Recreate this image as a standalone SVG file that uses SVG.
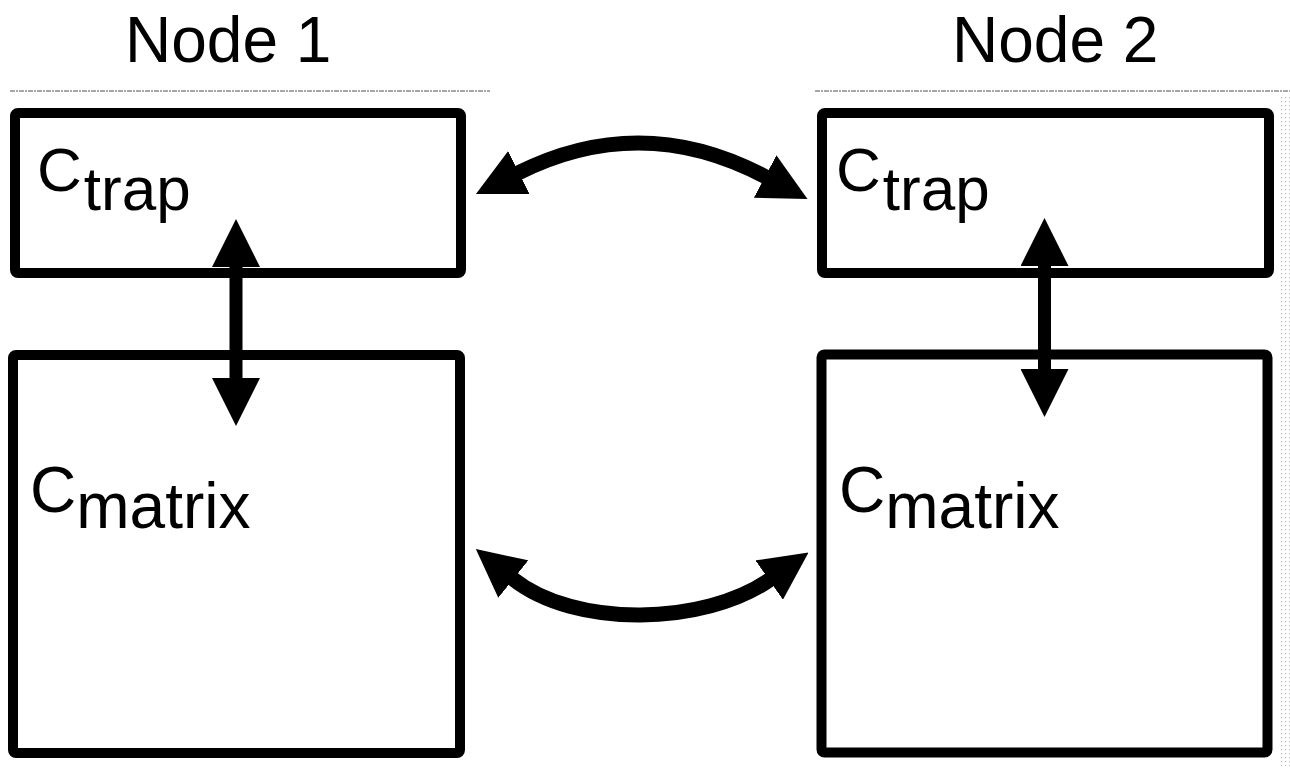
<svg xmlns="http://www.w3.org/2000/svg" width="1290" height="773" viewBox="0 0 1290 773">
  <style>
    .box { fill: #ffffff; stroke: #000000; stroke-width: 10; }
    .title { font-family: "Liberation Sans", Arial, sans-serif; font-size: 64px; fill: #000000; }
    .lbl-trap { font-family: "Liberation Sans", Arial, sans-serif; font-size: 62px; fill: #000000; }
    .lbl-matrix { font-family: "Liberation Sans", Arial, sans-serif; font-size: 64px; fill: #000000; }
    .shaft { fill: none; stroke: #000000; stroke-width: 13; }
    .arc { fill: none; stroke: #000000; stroke-width: 15; }
    .rule { stroke: #8a8a8a; stroke-width: 1.6; stroke-dasharray: 5 1 2 1; fill: none; }
  </style>
  <defs>
    <!-- filled triangular head, base at the path end, pointing forward -->
    <marker id="head" viewBox="0 0 48 48" refX="1" refY="24" markerWidth="48" markerHeight="48" markerUnits="userSpaceOnUse" orient="auto-start-reverse">
      <path d="M0,0 L48,24 L0,48 z" fill="#000000"/>
    </marker>
    <pattern id="stipple" width="4" height="4" patternUnits="userSpaceOnUse">
      <rect x="1" y="1" width="1.2" height="1.2" fill="#9a9a9a"/>
    </pattern>
  </defs>

  <rect width="1290" height="773" fill="#ffffff"/>

  <!-- header rules and right margin shading -->
  <line class="rule" x1="10" y1="91" x2="490" y2="91"/>
  <line class="rule" x1="815" y1="91" x2="1290" y2="91"/>
  <rect x="1279" y="96" width="11" height="670" fill="url(#stipple)" opacity="0.7"/>

  <!-- column headings -->
  <text class="title" x="125" y="62">Node 1</text>
  <text class="title" x="952" y="62">Node 2</text>

  <g id="node1-trap">
    <rect class="box" x="15" y="113" width="446" height="160" rx="3"/>
    <text class="lbl-trap" x="37" y="191">C<tspan dx="2" dy="19">trap</tspan></text>
  </g>
  <g id="node1-matrix">
    <rect class="box" x="13" y="355" width="447" height="398" rx="3"/>
    <text class="lbl-matrix" x="30" y="512">C<tspan dy="16">matrix</tspan></text>
  </g>
  <g id="node2-trap">
    <rect class="box" x="822" y="113" width="447" height="160" rx="3"/>
    <text class="lbl-trap" x="836" y="191">C<tspan dx="2" dy="19">trap</tspan></text>
  </g>
  <g id="node2-matrix">
    <rect class="box" x="821.5" y="354.5" width="446" height="398" rx="3"/>
    <text class="lbl-matrix" x="839" y="512">C<tspan dy="16">matrix</tspan></text>
  </g>

  <g id="connectors">
    <!-- trap <-> matrix within each node -->
    <path class="shaft" d="M236,266 V379" marker-start="url(#head)" marker-end="url(#head)"/>
    <path class="shaft" d="M1044.5,265 V370" marker-start="url(#head)" marker-end="url(#head)"/>
    <!-- trap <-> trap between nodes -->
    <path class="arc" d="M518,173 Q642,111 766,177" marker-start="url(#head)" marker-end="url(#head)"/>
    <!-- matrix <-> matrix between nodes -->
    <path class="arc" d="M512.5,578.5 C575,628.6 704.4,625.3 770,579.5" marker-start="url(#head)" marker-end="url(#head)"/>
  </g>
</svg>
